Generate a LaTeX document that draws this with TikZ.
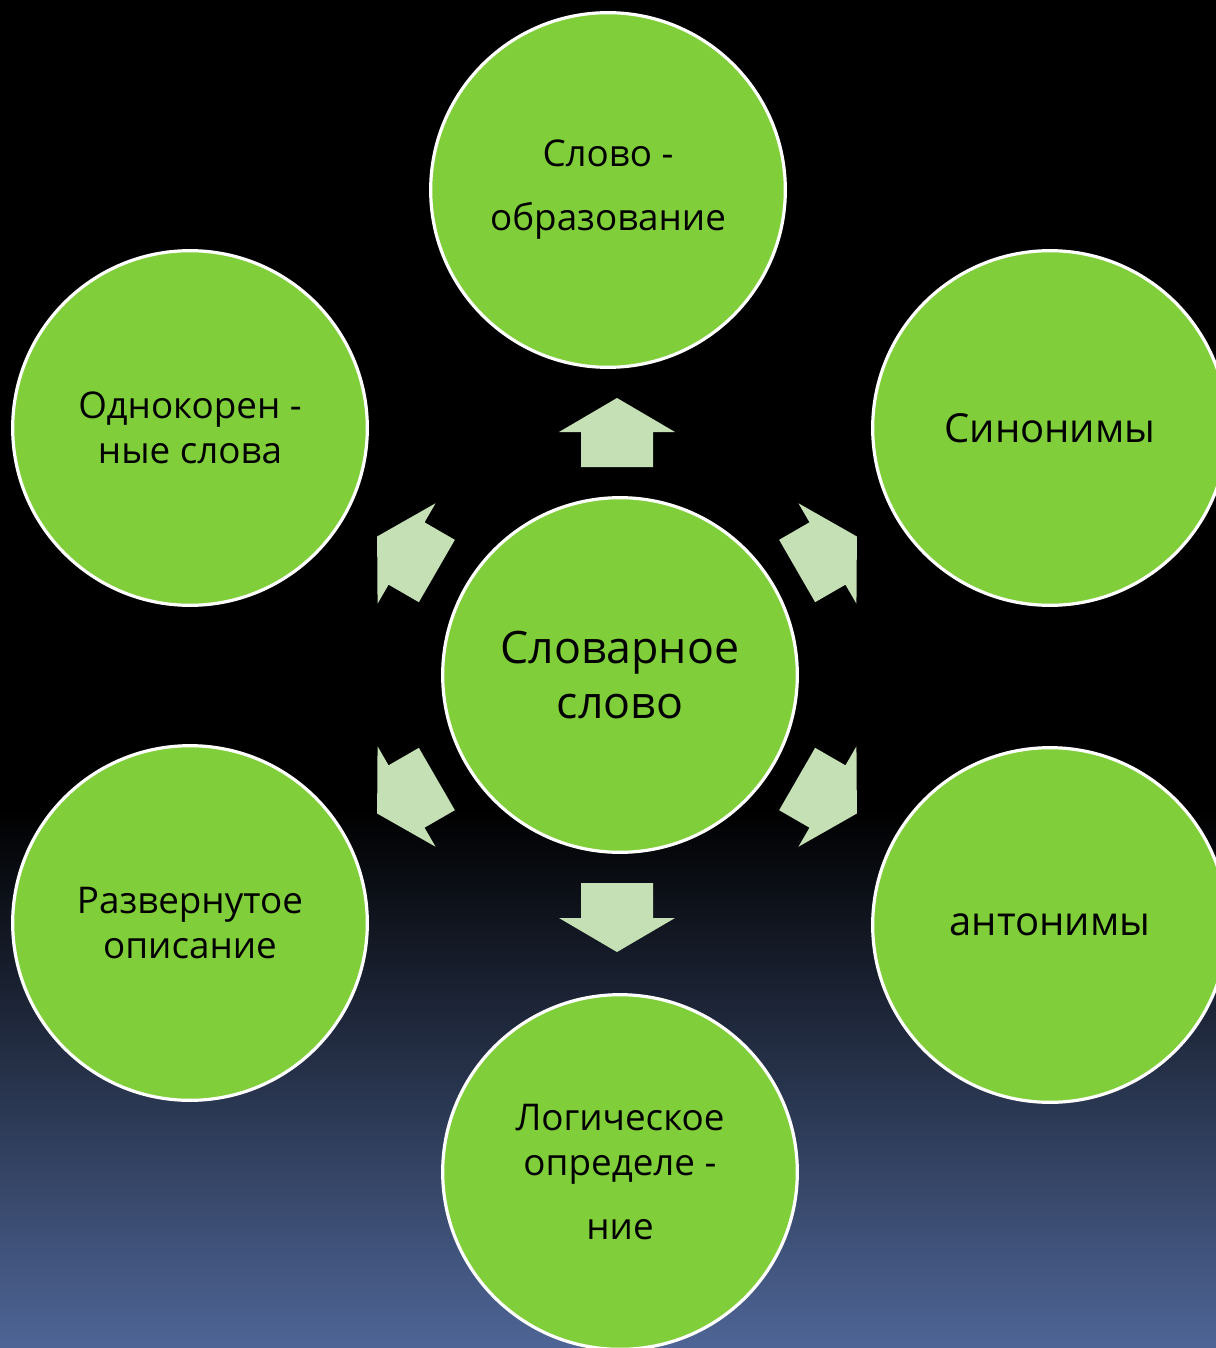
\documentclass[tikz,border=0pt]{standalone}
\usepackage{fontspec}
\setmainfont{Open Sans}
\usetikzlibrary{positioning}

\definecolor{leafgreen}{RGB}{128,206,58}
\definecolor{palegreen}{RGB}{197,224,180}
\definecolor{nightblue}{RGB}{78,101,150}

\begin{document}
\begin{tikzpicture}[x=0.75pt, y=-0.75pt,
		bubble/.style={circle, draw=white, line width=2.4pt, fill=leafgreen,
		               minimum size=266pt, inner sep=0pt, align=center,
		               text=black, font=\fontsize{27.6}{34}\selectfont},
		blockarrow/.style={fill=palegreen, draw=none}]

	% background
	\useasboundingbox (0,0) rectangle (1216,1348);
	\clip (0,0) rectangle (1216,1348);
	\fill [black] (0,0) rectangle (1216,812);
	\shade [top color=black, bottom color=nightblue] (0,810) rectangle (1216,1348);

	% the word in the middle
	\node [bubble, font=\fontsize{33.5}{41}\selectfont] (core) at (620,675) {Словарное\\слово};

	% the six circles round it
	\node [bubble] (deriv) at (608,190) {Слово -\\[14pt] образование};
	\node [bubble, font=\fontsize{30}{36}\selectfont] (syn) at (1050,428) {Синонимы};
	\node [bubble, font=\fontsize{30}{36}\selectfont] (ant) at (1050,925) {антонимы};
	\node [bubble] (logic) at (620,1172) {Логическое\\определе -\\[14pt] ние};
	\node [bubble] (descr) at (190,923) {Развернутое\\описание};
	\node [bubble] (roots) at (190,428) {Однокорен -\\ные слова};

	% block arrows from the middle outwards
	\foreach \ang in {90,30,-30,-90,210,150} {
		\begin{scope}[shift={(617,675)}, rotate=\ang-90, shift={(0,-208)}]
			\fill [blockarrow] (-36,0) -- (36,0) -- (36,-35) -- (58,-35) -- (0,-69)
			                   -- (-58,-35) -- (-36,-35) -- cycle;
		\end{scope}
	}
\end{tikzpicture}
\end{document}
